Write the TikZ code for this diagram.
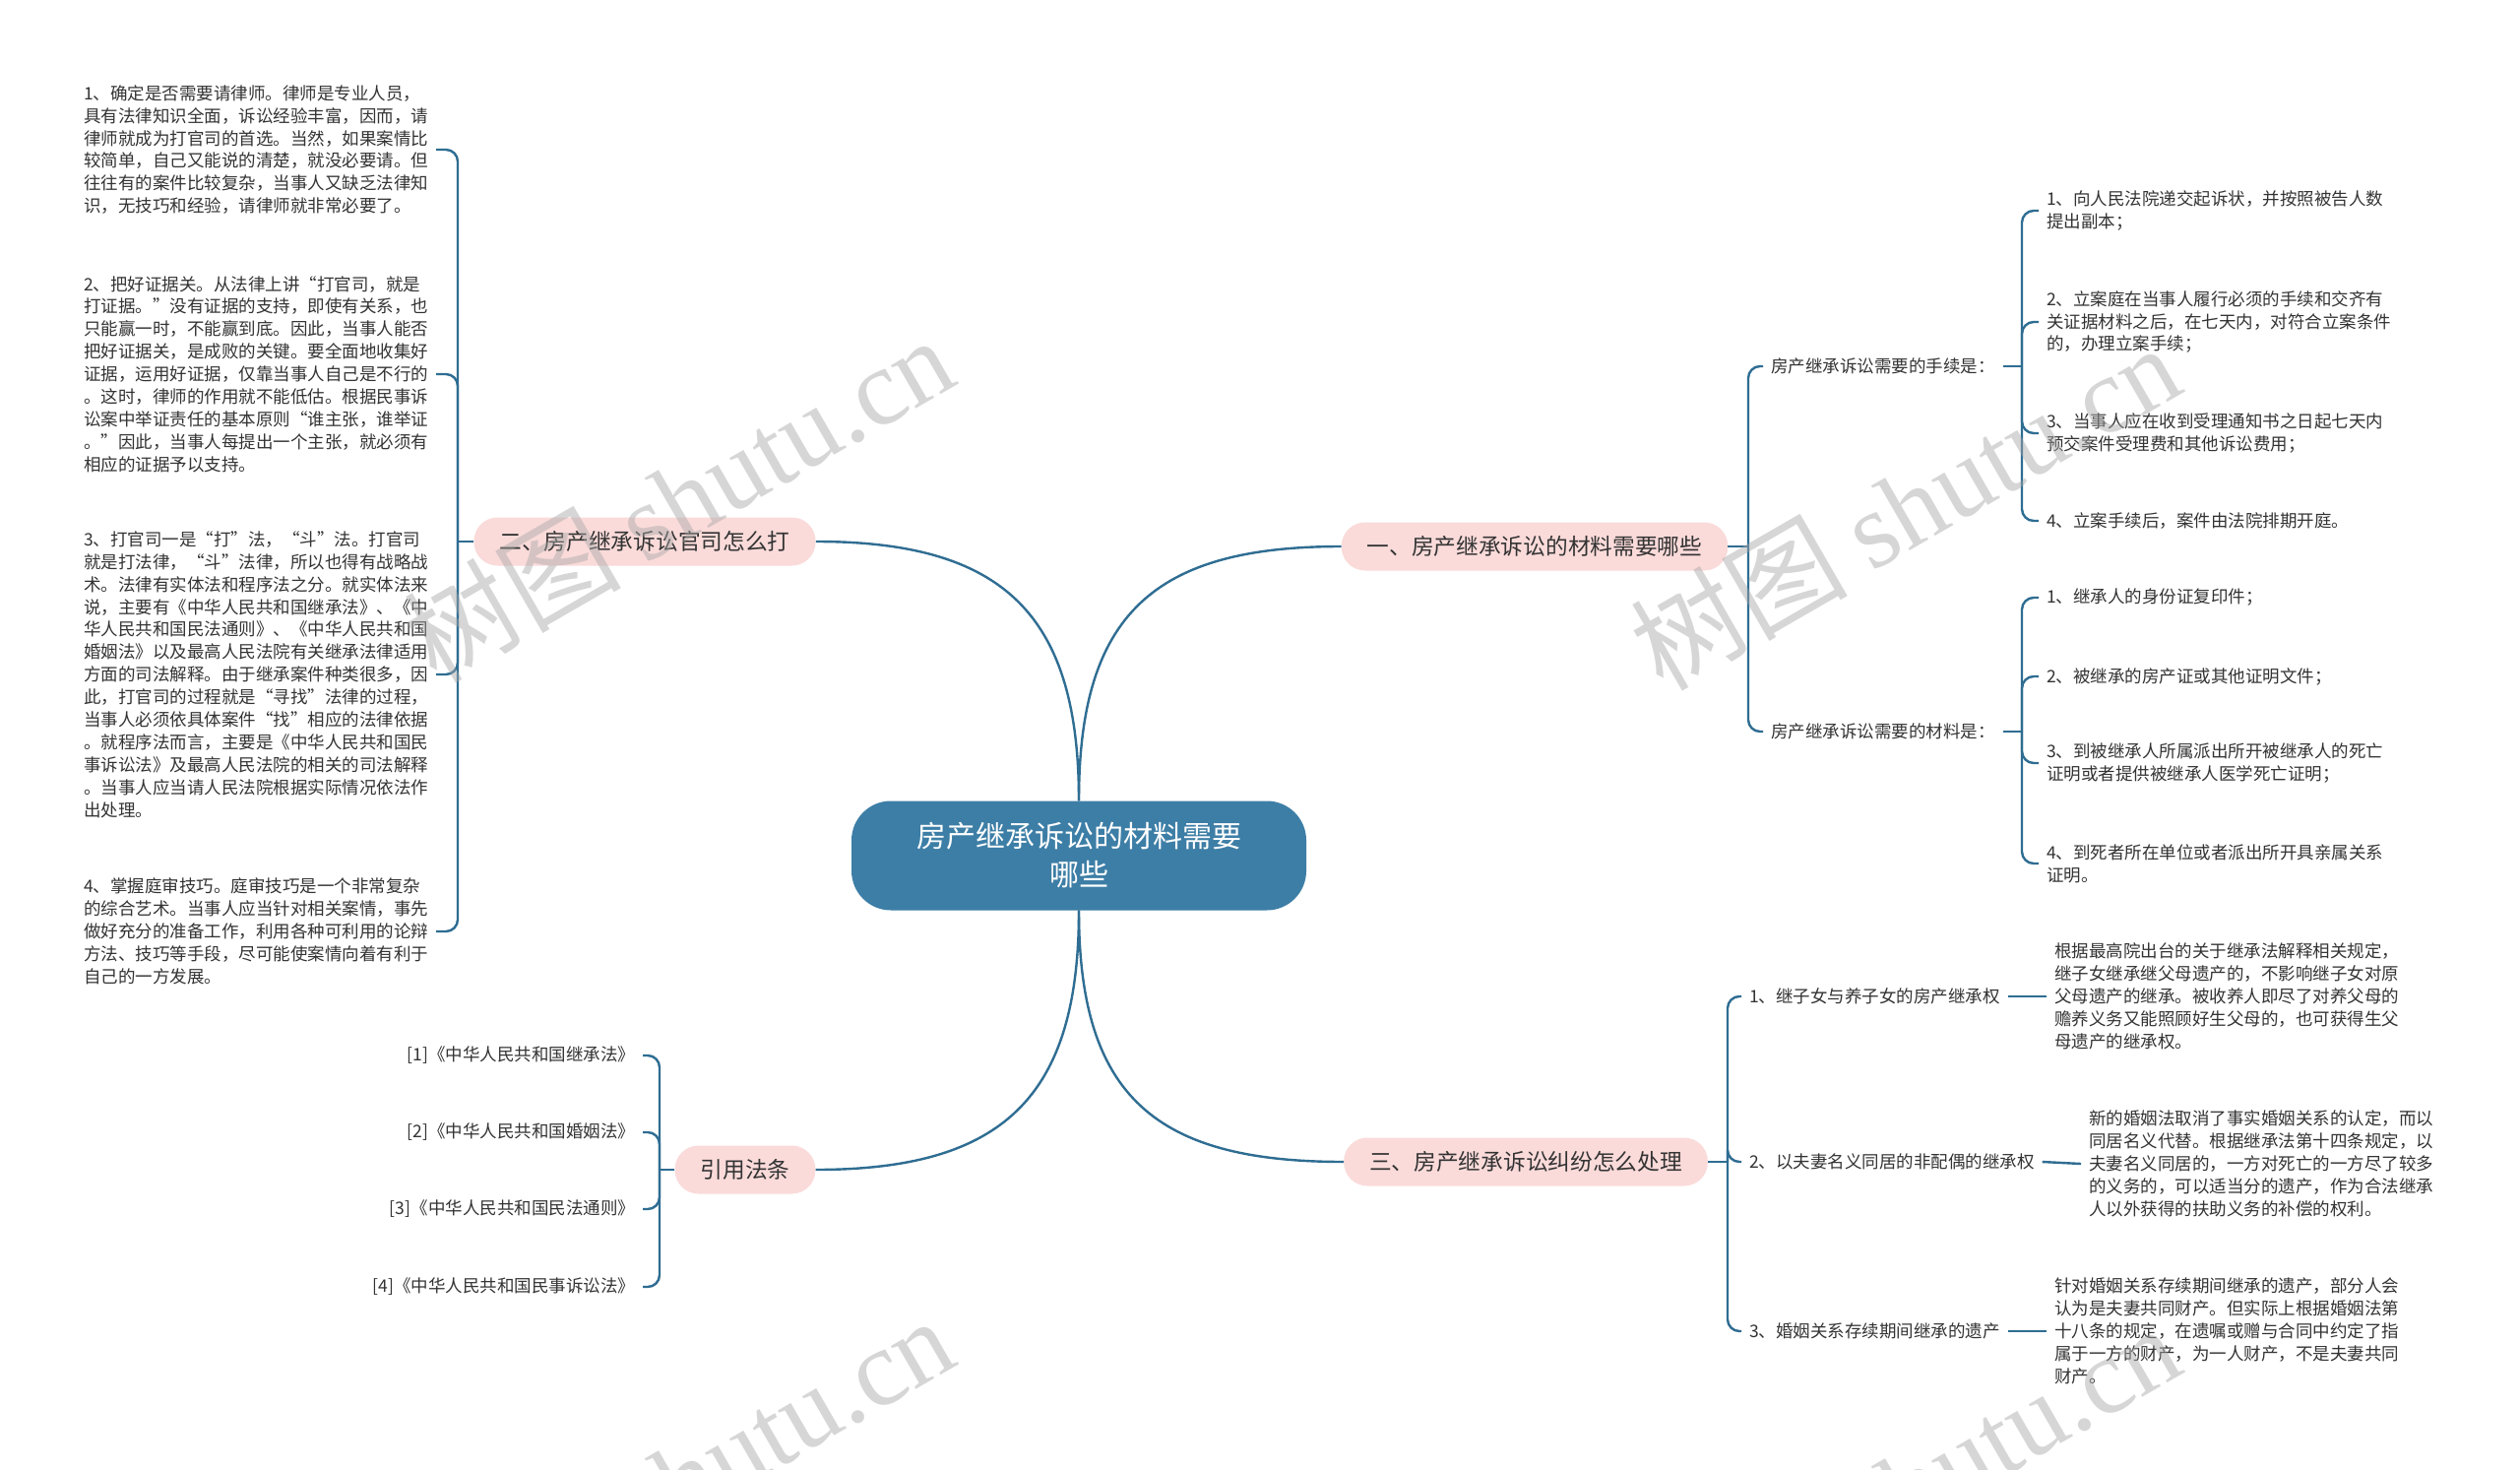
\documentclass[tikz,border=0pt]{standalone}
\usepackage{fontspec}
\setmainfont{Noto Sans CJK SC}
\newfontfamily\wmcjk{Noto Sans CJK SC}
\newfontfamily\wmlat{Liberation Serif}
\definecolor{lnk}{HTML}{2F6D92}
\definecolor{mainc}{HTML}{3D7EA6}
\definecolor{pinkc}{HTML}{FADBDA}
\definecolor{txt}{HTML}{333333}
\newcommand{\smallf}{\fontsize{17.5}{22.9}\selectfont}
\tikzset{
  link/.style={draw=lnk, line width=2.4pt, rounded corners=12pt},
  mainnode/.style={fill=mainc, text=white, rounded corners=40pt, minimum width=462pt, minimum height=111pt, align=center, font=\fontsize{30}{39}\selectfont},
  topic/.style={fill=pinkc, text=txt, rounded corners=24pt, minimum height=49pt, inner xsep=26pt, inner ysep=0pt, font=\fontsize{22.7}{28}\selectfont},
  leaf/.style={inner sep=0pt, outer xsep=8pt, outer ysep=0pt, align=left, text=txt, font=\smallf},
  wm/.style={text=gray!70, text opacity=0.45, font=\fontsize{110}{120}\selectfont, rotate=30}
}
\begin{document}
\begin{tikzpicture}[x=1pt,y=-1pt]
\fill[white] (0,0) rectangle (2560,1493);
\useasboundingbox (0,0) rectangle (2560,1493);

% central and main topics
\node[mainnode] (c) at (1096,869) {房产继承诉讼的材料需要\\哪些};
\node[topic] (t1) at (1559,555) {一、房产继承诉讼的材料需要哪些};
\node[topic] (t2) at (655,550) {二、房产继承诉讼官司怎么打};
\node[topic] (t3) at (1550,1180) {三、房产继承诉讼纠纷怎么处理};
\node[topic] (t4) at (757,1188) {引用法条};

\draw[link] (c.north) .. controls +(0,-190) and +(-190,0) .. (t1.west);
\draw[link] (c.north) .. controls +(0,-190) and +(190,0) .. (t2.east);
\draw[link] (c.south) .. controls +(0,190) and +(-190,0) .. (t3.west);
\draw[link] (c.south) .. controls +(0,190) and +(190,0) .. (t4.east);

% branch 1
\coordinate (j1) at (1776,555);
\node[leaf, anchor=west] (s1) at (1791,372) {房产继承诉讼需要的手续是：};
\node[leaf, anchor=west] (s2) at (1791,743) {房产继承诉讼需要的材料是：};
\draw[link] (t1.east) -- (j1);
\draw[link] (j1) |- (s1.west);
\draw[link] (j1) |- (s2.west);

\coordinate (j11) at (2054,372);
\node[leaf, anchor=west] (a1) at (2071,214) {1、向人民法院递交起诉状，并按照被告人数\\提出副本；};
\node[leaf, anchor=west] (a2) at (2071,327) {2、立案庭在当事人履行必须的手续和交齐有\\关证据材料之后，在七天内，对符合立案条件\\的，办理立案手续；};
\node[leaf, anchor=west] (a3) at (2071,440) {3、当事人应在收到受理通知书之日起七天内\\预交案件受理费和其他诉讼费用；};
\node[leaf, anchor=west] (a4) at (2071,529) {4、立案手续后，案件由法院排期开庭。};
\draw[link] (s1.east) -- (j11);
\foreach \k in {a1,a2,a3,a4} \draw[link] (j11) |- (\k.west);

\coordinate (j12) at (2054,743);
\node[leaf, anchor=west] (b1) at (2071,607) {1、继承人的身份证复印件；};
\node[leaf, anchor=west] (b2) at (2071,687) {2、被继承的房产证或其他证明文件；};
\node[leaf, anchor=west] (b3) at (2071,775) {3、到被继承人所属派出所开被继承人的死亡\\证明或者提供被继承人医学死亡证明；};
\node[leaf, anchor=west] (b4) at (2071,877) {4、到死者所在单位或者派出所开具亲属关系\\证明。};
\draw[link] (s2.east) -- (j12);
\foreach \k in {b1,b2,b3,b4} \draw[link] (j12) |- (\k.west);

% branch 3
\coordinate (j3) at (1755,1180);
\node[leaf, anchor=west] (r1) at (1769,1012) {1、继子女与养子女的房产继承权};
\node[leaf, anchor=west] (r2) at (1769,1180) {2、以夫妻名义同居的非配偶的继承权};
\node[leaf, anchor=west] (r3) at (1769,1352) {3、婚姻关系存续期间继承的遗产};
\draw[link] (t3.east) -- (j3);
\foreach \k in {r1,r2,r3} \draw[link] (j3) |- (\k.west);

\node[leaf, anchor=west] (d1) at (2079,1012) {根据最高院出台的关于继承法解释相关规定，\\继子女继承继父母遗产的，不影响继子女对原\\父母遗产的继承。被收养人即尽了对养父母的\\赡养义务又能照顾好生父母的，也可获得生父\\母遗产的继承权。};
\node[leaf, anchor=west] (d2) at (2114,1182) {新的婚姻法取消了事实婚姻关系的认定，而以\\同居名义代替。根据继承法第十四条规定，以\\夫妻名义同居的，一方对死亡的一方尽了较多\\的义务的，可以适当分的遗产，作为合法继承\\人以外获得的扶助义务的补偿的权利。};
\node[leaf, anchor=west] (d3) at (2079,1352) {针对婚姻关系存续期间继承的遗产，部分人会\\认为是夫妻共同财产。但实际上根据婚姻法第\\十八条的规定，在遗嘱或赠与合同中约定了指\\属于一方的财产，为一人财产，不是夫妻共同\\财产。};
\draw[link] (r1.east) -- (d1.west);
\draw[link] (r2.east) -- (d2.west);
\draw[link] (r3.east) -- (d3.west);

% branch 2
\coordinate (j2) at (465,550);
\node[leaf, anchor=west] (l1) at (77,152) {1、确定是否需要请律师。律师是专业人员，\\具有法律知识全面，诉讼经验丰富，因而，请\\律师就成为打官司的首选。当然，如果案情比\\较简单，自己又能说的清楚，就没必要请。但\\往往有的案件比较复杂，当事人又缺乏法律知\\识，无技巧和经验，请律师就非常必要了。};
\node[leaf, anchor=west] (l2) at (77,380) {2、把好证据关。从法律上讲“打官司，就是\\打证据。”没有证据的支持，即使有关系，也\\只能赢一时，不能赢到底。因此，当事人能否\\把好证据关，是成败的关键。要全面地收集好\\证据，运用好证据，仅靠当事人自己是不行的\\。这时，律师的作用就不能低估。根据民事诉\\讼案中举证责任的基本原则“谁主张，谁举证\\。”因此，当事人每提出一个主张，就必须有\\相应的证据予以支持。};
\node[leaf, anchor=west] (l3) at (77,685) {3、打官司一是“打”法，“斗”法。打官司\\就是打法律，“斗”法律，所以也得有战略战\\术。法律有实体法和程序法之分。就实体法来\\说，主要有《中华人民共和国继承法》、《中\\华人民共和国民法通则》、《中华人民共和国\\婚姻法》以及最高人民法院有关继承法律适用\\方面的司法解释。由于继承案件种类很多，因\\此，打官司的过程就是“寻找”法律的过程，\\当事人必须依具体案件“找”相应的法律依据\\。就程序法而言，主要是《中华人民共和国民\\事诉讼法》及最高人民法院的相关的司法解释\\。当事人应当请人民法院根据实际情况依法作\\出处理。};
\node[leaf, anchor=west] (l4) at (77,946) {4、掌握庭审技巧。庭审技巧是一个非常复杂\\的综合艺术。当事人应当针对相关案情，事先\\做好充分的准备工作，利用各种可利用的论辩\\方法、技巧等手段，尽可能使案情向着有利于\\自己的一方发展。};
\draw[link] (t2.west) -- (j2);
\foreach \k in {l1,l2,l3,l4} \draw[link] (j2) |- (\k.east);

% branch 4
\coordinate (j4) at (670,1188);
\node[leaf, anchor=east] (f1) at (653,1072) {[1]《中华人民共和国继承法》};
\node[leaf, anchor=east] (f2) at (653,1150) {[2]《中华人民共和国婚姻法》};
\node[leaf, anchor=east] (f3) at (653,1228) {[3]《中华人民共和国民法通则》};
\node[leaf, anchor=east] (f4) at (653,1307) {[4]《中华人民共和国民事诉讼法》};
\draw[link] (t4.west) -- (j4);
\foreach \k in {f1,f2,f3,f4} \draw[link] (j4) |- (\k.east);

% watermarks
\node[wm] (w1) at (689,506) {{\wmcjk 树图} {\wmlat shutu.cn}};
\node[wm] (w2) at (1935,514) {{\wmcjk 树图} {\wmlat shutu.cn}};
\node[wm] (w3) at (689,1502) {{\wmcjk 树图} {\wmlat shutu.cn}};
\node[wm] (w4) at (1935,1510) {{\wmcjk 树图} {\wmlat shutu.cn}};
\end{tikzpicture}
\end{document}
